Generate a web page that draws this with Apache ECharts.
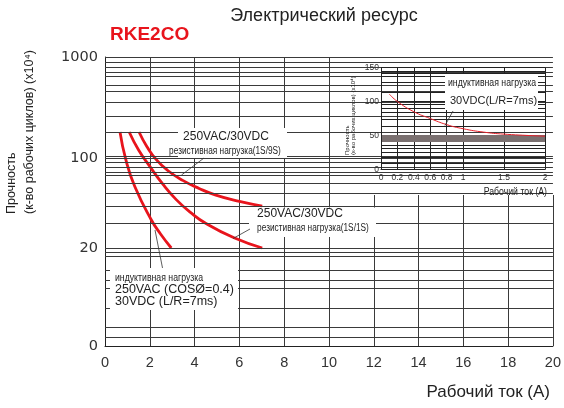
<!DOCTYPE html>
<html><head><meta charset="utf-8">
<script src="https://cdn.jsdelivr.net/npm/echarts@6/dist/echarts.min.js"></script>
<style>html,body{margin:0;padding:0;background:#fff}#c{width:564px;height:408px}</style>
</head><body><div id="c"></div>
<script>
// ---------- data ----------
const xTicks = [0,2,4,6,8,10,12,14,16,18,20];
const yTickLabels = [0,20,100,1000];
const mainGridValues = [1000,892,796,710,648,528,461,358,261,181,105,100,92,85,78,74,64,53,42,31,20,19.2,18.4,15.5,13.5,11.8,7.8,3.9,1.8];
const inductiveCurve = [[0.67,181],[0.93,97],[1.33,60],[2.07,33],[2.48,25.7],[2.96,20]];
const resistive11Curve = [[1.08,181],[1.5,120],[2.0,86],[2.6,62],[3.18,47.5],[3.8,38],[4.51,31],[5.76,24],[7.02,20]];
const resistive19Curve = [[1.52,181],[1.86,131],[2.29,97],[2.8,80],[3.47,67],[4.2,58],[4.95,51.5],[6.0,46],[7.02,42.3]];
const insetXTicks = [0,0.2,0.4,0.6,0.8,1,1.5,2];
const insetYTicks = [0,50,100,150];
const insetGridValues = [145,141.5,136.5,129,114,100,96,90,84,74,63,36,31,25,18.5,9];
const insetBandValues = [50,48.5,47,45.5,44,42.5,41];
const insetCurve = [[0.1,111],[0.2,100],[0.4,85],[0.6,75],[0.8,66],[1.0,60],[1.25,55],[1.5,52],[2.0,49]];

// ---------- piecewise y scale of the main chart ----------
function yPos(v){
  if (v <= 20) return v/20*98;
  if (v <= 100) return 98 + 90*Math.log(v/20)/Math.log(5);
  return 188 + 101*Math.log10(v/100);
}
const Y_MAX = yPos(1000);
const tr = arr => arr.map(p => [p[0], yPos(p[1])]);

const REG = 'Liberation Sans, Arial, sans-serif';
const DJV = 'DejaVu Sans, sans-serif';
const RED = '#e8141c';
const GRID = '#3a3a3a';

const chart = echarts.init(document.getElementById('c'), null, {renderer:'canvas'});

function label(x, y, text, size, align, extra){
  return Object.assign({type:'text', x, y, z:10, style:{text, fontSize:size, fontFamily:REG, fill:'#222', align:align||'center', verticalAlign:'middle'}}, extra||{});
}
function narrow(x, y, text, size, align){
  return label(x, y, text, size, align, {scaleX:0.83});
}
function box(x,y,w,h){ return {type:'rect', z:9, shape:{x,y,width:w,height:h}, style:{fill:'#fff'}}; }
function lead(x1,y1,x2,y2){ return {type:'line', z:11, shape:{x1,y1,x2,y2}, style:{stroke:'#333', lineWidth:0.8}}; }

const curveStyle = {smooth:0.5, showSymbol:false, lineStyle:{color:RED, width:2.8}};

const option = {
  animation:false,
  backgroundColor:'#fff',
  grid:[
    {left:105, right:8, top:57, bottom:62},
    {left:381, right:19, top:67.5, bottom:238.5}
  ],
  xAxis:[
    {type:'value', gridIndex:0, min:0, max:20, interval:2,
     axisLine:{show:true, lineStyle:{color:'#222', width:1}}, axisTick:{show:false},
     axisLabel:{color:'#333', fontSize:14.5, fontFamily:REG, margin:9},
     splitLine:{show:true, lineStyle:{color:GRID, width:1}}},
    {type:'value', gridIndex:1, min:0, max:2, z:5,
     axisLine:{show:true, lineStyle:{color:'#222', width:1}}, axisTick:{show:false},
     axisLabel:{customValues:insetXTicks, color:'#333', fontSize:8.5, fontFamily:REG, margin:4,
       formatter: v => String(v)},
     splitLine:{show:false}}
  ],
  yAxis:[
    {type:'value', gridIndex:0, min:0, max:Y_MAX,
     axisLine:{show:true, lineStyle:{color:'#222', width:1}}, axisTick:{show:false},
     axisLabel:{customValues:yTickLabels.map(yPos), color:'#333', fontSize:14.5, fontFamily:DJV, margin:7,
       formatter: v => { let best=yTickLabels[0], d=1e9; yTickLabels.forEach(t=>{const dd=Math.abs(yPos(t)-v); if(dd<d){d=dd;best=t;}}); return String(best);} },
     splitLine:{show:false}},
    {type:'value', gridIndex:1, min:0, max:150, z:5,
     axisLine:{show:true, lineStyle:{color:'#222', width:1}}, axisTick:{show:false},
     axisLabel:{customValues:insetYTicks, color:'#333', fontSize:8.5, fontFamily:REG, margin:2},
     splitLine:{show:false}}
  ],
  series:[
    {type:'line', xAxisIndex:0, yAxisIndex:0, z:1, data:[], silent:true,
     markLine:{silent:true, symbol:['none','none'], label:{show:false}, animation:false,
       lineStyle:{type:'solid', color:GRID, width:1},
       emphasis:{disabled:true},
       data: mainGridValues.map(v => ({yAxis:yPos(v)}))}},
    Object.assign({type:'line', name:'inductive', xAxisIndex:0, yAxisIndex:0, z:3, data:tr(inductiveCurve)}, curveStyle),
    Object.assign({type:'line', name:'res1S1S', xAxisIndex:0, yAxisIndex:0, z:3, data:tr(resistive11Curve)}, curveStyle),
    Object.assign({type:'line', name:'res1S9S', xAxisIndex:0, yAxisIndex:0, z:3, data:tr(resistive19Curve)}, curveStyle),
    {type:'line', xAxisIndex:1, yAxisIndex:1, z:5, data:[], silent:true,
     markLine:{silent:true, symbol:['none','none'], label:{show:false}, animation:false,
       lineStyle:{type:'solid', color:'#222', width:1}, emphasis:{disabled:true},
       data: insetGridValues.map(v=>({yAxis:v})).concat(insetXTicks.slice(1).map(v=>({xAxis:v}))).concat([{yAxis:150}])}},
    {type:'line', xAxisIndex:1, yAxisIndex:1, z:5, data:[], silent:true,
     markLine:{silent:true, symbol:['none','none'], label:{show:false}, animation:false,
       lineStyle:{type:'solid', color:'#7a7070', width:1}, emphasis:{disabled:true},
       data: insetBandValues.map(v=>({yAxis:v}))}},
    {type:'line', name:'inset', xAxisIndex:1, yAxisIndex:1, z:6, data:insetCurve,
     smooth:0.5, showSymbol:false, lineStyle:{color:'#e8202a', width:1}}
  ],
  graphic:{elements:[
    {type:'rect', z:4, shape:{x:337, y:54, width:218, height:141}, style:{fill:'#fff'}},
    label(324, 16, 'Электрический ресурс', 18),
    {type:'text', x:110, y:35, z:10, style:{text:'RKE2CO', fontSize:19, fontFamily:REG, fontWeight:'bold', fill:RED, align:'left', verticalAlign:'middle'}},
    label(550, 392, 'Рабочий ток (А)', 17, 'right'),
    label(12, 214, 'Прочность', 12.5, 'left', {rotation:Math.PI/2}),
    label(30, 214, '(к-во рабочих циклов) (x10⁴)', 12.5, 'left', {rotation:Math.PI/2}),
    // inset texts
    label(347, 155, 'Прочность', 6, 'left', {rotation:Math.PI/2}),
    label(353, 155, '(к-во рабочих циклов) (x10⁴)', 6, 'left', {rotation:Math.PI/2}),
    narrow(547, 192, 'Рабочий ток (А)', 10.5, 'right'),
    box(445, 74, 93, 36),
    narrow(448, 83, 'индуктивная нагрузка', 10.5, 'left'),
    label(450, 101, '30VDC(L/R=7ms)', 11, 'left'),
    lead(445, 125.5, 453, 111),
    // main chart annotations
    box(178, 128, 109, 30),
    label(226, 137, '250VAC/30VDC', 12),
    narrow(225, 151.5, 'резистивная нагрузка(1S/9S)', 10),
    lead(181.5, 175, 204, 158),
    box(249, 207.5, 127, 29.5),
    label(300, 213.5, '250VAC/30VDC', 12),
    narrow(313, 228, 'резистивная нагрузка(1S/1S)', 10),
    lead(233, 238.5, 250, 229),
    box(110, 268, 128, 42),
    narrow(115, 278.5, 'индуктивная нагрузка', 10.5, 'left'),
    label(115, 290, '250VAC (COSØ=0.4)', 12.5, 'left'),
    label(115, 302, '30VDC (L/R=7ms)', 12.5, 'left'),
    lead(155, 230, 162.5, 268)
  ]}
};
chart.setOption(option);
</script>
</body></html>
